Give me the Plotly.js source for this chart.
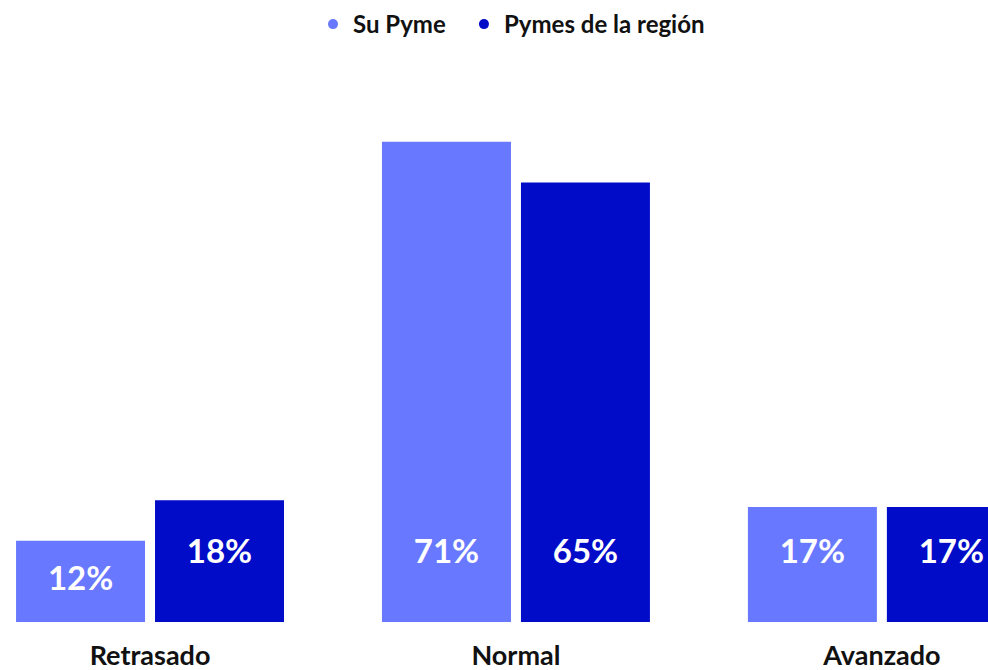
<!DOCTYPE html>
<html>
<head>
<meta charset="utf-8">
<script src="https://cdn.plot.ly/plotly-3.0.1.min.js"></script>
<style>html,body{margin:0;padding:0;background:#fff;}#chart{width:988px;height:670px;}</style>
</head>
<body>
<div id="chart"></div>
<script>
const categories = ["Retrasado", "Normal", "Avanzado"];
const seriesNames = ["Su Pyme", "Pymes de la región"];
const suPyme = [12, 71, 17];
const pymesRegion = [18, 65, 17];

const colors = ["#6878FF", "#000CC8"];
const W = 0.3525, GAP = 0.0273;
const offsets = [-(W + GAP / 2), GAP / 2];
const idx = categories.map((c, i) => i);
const series = [suPyme, pymesRegion];
const legendIds = ["legend", "legend2"];

const traces = [];
series.forEach((vals, s) => {
  traces.push({
    type: "bar", x: idx, y: vals, width: W, offset: offsets[s],
    marker: {color: colors[s], line: {width: 0}},
    showlegend: false, hoverinfo: "skip"
  });
});
series.forEach((vals, s) => {
  traces.push({
    type: "scatter", mode: "text",
    x: idx.map(i => i + offsets[s] + W / 2),
    y: vals.map(v => (v < 15 ? v / 2 : 10.0)),
    text: vals.map(v => v + "%"),
    textfont: {family: "Lato", size: 33, color: "#ffffff", weight: "bold"},
    textposition: "middle center",
    showlegend: false, hoverinfo: "skip", cliponaxis: true
  });
});
series.forEach((vals, s) => {
  traces.push({
    type: "scatter", mode: "markers", x: [null], y: [null],
    name: seriesNames[s], legend: legendIds[s],
    marker: {color: colors[s], size: 10, symbol: "circle"}
  });
});

const legendBase = {
  orientation: "h", xref: "container", yref: "container",
  xanchor: "left", y: 0.997, yanchor: "top",
  font: {family: "Lato", size: 24, color: "#111111", weight: "bold"},
  itemclick: false, itemdoubleclick: false
};

const layout = {
  width: 988, height: 670,
  margin: {l: 0, r: 0, t: 81, b: 48, pad: 0},
  paper_bgcolor: "#ffffff", plot_bgcolor: "#ffffff",
  barmode: "overlay",
  font: {family: "Lato", color: "#111111"},
  xaxis: {
    range: [-0.41, 2.29], tickvals: idx, ticktext: categories,
    showgrid: false, zeroline: false, showline: false, ticks: "",
    ticklabelstandoff: 15,
    tickfont: {family: "Lato", size: 27, color: "#111111", weight: "bold"},
    fixedrange: true
  },
  yaxis: {range: [0, 80], visible: false, fixedrange: true},
  legend: Object.assign({}, legendBase, {x: 0.3168}),
  legend2: Object.assign({}, legendBase, {x: 0.4696}),
  showlegend: true
};

Plotly.newPlot("chart", traces, layout, {displayModeBar: false, staticPlot: true});
</script>
</body>
</html>
